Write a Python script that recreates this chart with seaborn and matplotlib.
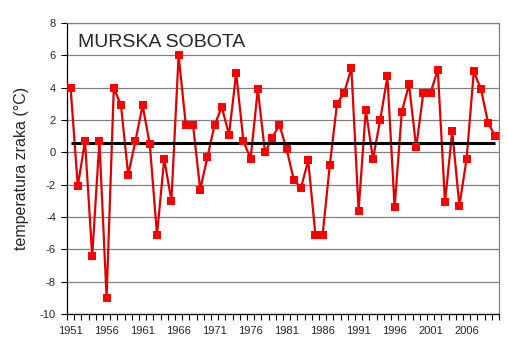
import numpy as np
import pandas as pd
import matplotlib
matplotlib.use("Agg")
import matplotlib.pyplot as plt
import seaborn as sns

sns.set_style("white")
plt.rcParams["font.family"] = ["Liberation Sans", "DejaVu Sans"]

# annual temperature anomaly, Murska Sobota 1951-2010
years = list(range(1951, 2011))
temps = [
    4.0, -2.1, 0.7, -6.4, 0.7, -9.0, 4.0, 2.9, -1.4, 0.7,
    2.9, 0.5, -5.1, -0.4, -3.0, 6.0, 1.7, 1.7, -2.3, -0.3,
    1.7, 2.8, 1.1, 4.9, 0.7, -0.4, 3.9, 0.0, 0.9, 1.7,
    0.2, -1.7, -2.2, -0.5, -5.1, -5.1, -0.8, 3.0, 3.7, 5.2,
    -3.6, 2.6, -0.4, 2.0, 4.7, -3.4, 2.5, 4.2, 0.3, 3.7,
    3.7, 5.1, -3.1, 1.3, -3.3, -0.4, 5.0, 3.9, 1.8, 1.0,
]
mean_value = 0.55
label_years = list(range(1951, 2007, 5))

pos = np.arange(len(years), dtype=float)
df = pd.DataFrame({"pos": pos, "temp": temps})

fig = plt.figure(figsize=(5.08, 3.51), dpi=100)
ax = fig.add_axes([67 / 508, 1 - 314 / 351, 432 / 508, 291 / 351])

# connecting line and square markers
sns.lineplot(data=df, x="pos", y="temp", ax=ax, color="#e00000",
             linewidth=1.6, linestyle="-", zorder=2)
ax.hlines(mean_value, pos[0], pos[-1], color="black", linewidth=2.2, zorder=2.5)
sns.scatterplot(data=df, x="pos", y="temp", ax=ax, color="red", marker="s",
                s=32, linewidth=0, zorder=3)

ax.set_xlim(-0.5, len(years) - 0.5)
ax.set_ylim(-10, 8)
ax.set_yticks(range(-10, 9, 2))
ax.set_yticklabels([str(v) for v in range(-10, 9, 2)])
ax.yaxis.grid(True, color="#808080", linewidth=0.9)
ax.set_axisbelow(True)

ax.set_xticks([years.index(y) for y in label_years])
ax.set_xticklabels([str(y) for y in label_years])
ax.set_xticks(np.arange(len(years) + 1) - 0.5, minor=True)
ax.tick_params(axis="x", which="major", length=0, pad=9, labelsize=8)
ax.tick_params(axis="x", which="minor", length=4, width=0.8, color="black",
               direction="out", bottom=True)
ax.tick_params(axis="y", which="major", length=4, width=0.8, color="black",
               direction="out", left=True, pad=4, labelsize=8)

for side in ["top", "right"]:
    ax.spines[side].set_color("#808080")
    ax.spines[side].set_linewidth(0.9)
for side in ["left", "bottom"]:
    ax.spines[side].set_color("black")
    ax.spines[side].set_linewidth(0.9)

ax.set_xlabel("")
ax.set_ylabel("temperatura zraka (°C)", fontsize=11.5, labelpad=8)
ax.text(0.026, 0.918, "MURSKA SOBOTA", transform=ax.transAxes,
        fontsize=14, va="baseline", ha="left")

fig.savefig("out.png", dpi=100)
